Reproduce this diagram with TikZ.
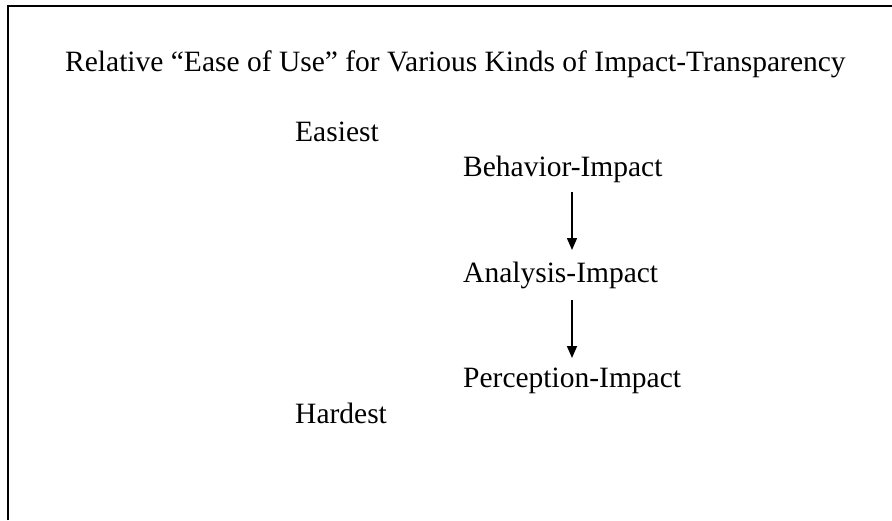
\documentclass[tikz,border=0pt]{standalone}
\usepackage{fontspec}
\setmainfont{Liberation Serif}
\usepackage{tikz}
\usetikzlibrary{positioning,arrows.meta}

\tikzset{
  lbl/.style={inner sep=0pt,anchor=base west,font=\fontsize{29.5}{34}\selectfont},
  arr/.style={line width=1.5pt,-{Triangle[length=12pt,width=10pt]}}
}

\begin{document}
\begin{tikzpicture}[x=1pt,y=1pt,yscale=-1,xscale=1]
\useasboundingbox (0,0) rectangle (892,520);

%Shape: Frame 
\draw [line width=2.8pt] (8,520) -- (8,6) -- (892,6) ;

%Text: Title 
\node [lbl] (title) at (65,71) {Relative ``Ease of Use'' for Various Kinds of Impact-Transparency};
%Text: Easiest 
\node [lbl] (easy) at (295,141) {Easiest};
%Text: Behavior 
\node [lbl] (beh) at (463,176) {Behavior-Impact};
%Text: Analysis 
\node [lbl] (ana) at (463,282) {Analysis-Impact};
%Text: Perception 
\node [lbl] (per) at (463,387) {Perception-Impact};
%Text: Hardest 
\node [lbl] (hard) at (295,423) {Hardest};

%Arrows 
\draw [arr] ([xshift=109pt,yshift=16pt]beh.base west) -- ([xshift=109pt,yshift=-32pt]ana.base west) ;
\draw [arr] ([xshift=109pt,yshift=18pt]ana.base west) -- ([xshift=109pt,yshift=-29pt]per.base west) ;

\end{tikzpicture}
\end{document}
